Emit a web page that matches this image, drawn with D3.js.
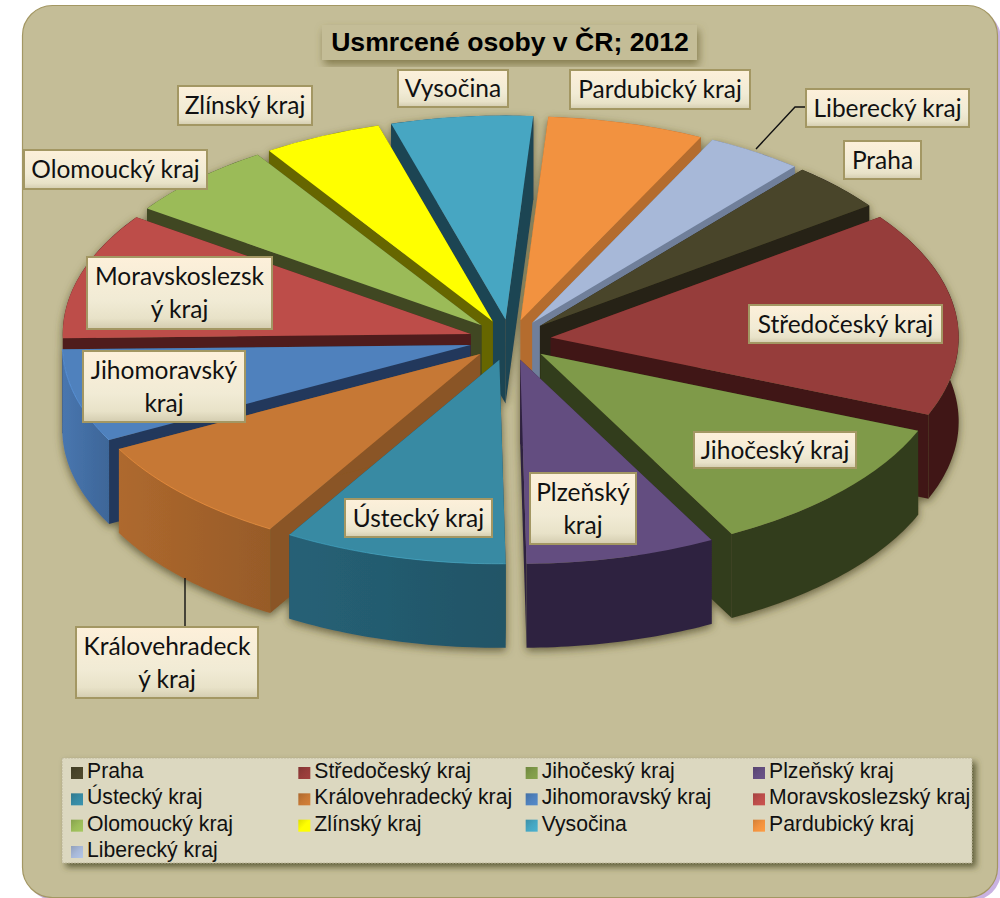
<!DOCTYPE html>
<html>
<head>
<meta charset="utf-8">
<script src="https://cdn.jsdelivr.net/npm/d3@7"></script>
<style>
  html, body { margin: 0; padding: 0; background: #fff; }
  svg { display: block; }
</style>
</head>
<body>
<div id="chart"></div>
<script>
const regions = ['Praha', 'Středočeský kraj', 'Jihočeský kraj', 'Plzeňský kraj', 'Ústecký kraj',
  'Královehradecký kraj', 'Jihomoravský kraj', 'Moravskoslezský kraj', 'Olomoucký kraj',
  'Zlínský kraj', 'Vysočina', 'Pardubický kraj', 'Liberecký kraj'];
const deaths = [26, 110, 75, 51, 60, 59, 50, 68, 41, 32, 38, 42, 26];

const topColors = ['#4a452a', '#963c3a', '#7f9a48', '#644e80', '#378aa3', '#c67835', '#4f81bd',
  '#bd4d4a', '#9bbb59', '#ffff00', '#46a6c2', '#f2923f', '#a7b8d8'];
const wallColors = ['#252214', '#3f1816', '#333c1c', '#2f2340', '#235a6e', '#a2622b', '#436ea3',
  '#4f1e1d', '#3f4723', '#666600', '#1e4452', '#b46c2e', '#6f7f9a'];
const cutColors = ['#252214', '#3f1816', '#333c1c', '#2f2340', '#1e4452', '#8a5525', '#24395b',
  '#4f1e1d', '#3f4723', '#666600', '#1e4452', '#b46c2e', '#6f7f9a'];

// label boxes, same order as regions: [x0, y0, x1, y1]
const labelBoxes = [[843, 140, 922, 180], [748, 304, 943, 344], [693, 431, 857, 469],
  [529, 472, 637, 545], [344, 498, 493, 538], [75, 626, 259, 699], [82, 350, 246, 423],
  [86, 256, 273, 330], [23, 149, 208, 190], [177, 85, 313, 126], [397, 69, 509, 108],
  [569, 69, 751, 110], [805, 88, 970, 128]];
const labelLines = [['Praha'], ['Středočeský kraj'], ['Jihočeský kraj'], ['Plzeňský', 'kraj'],
  ['Ústecký kraj'], ['Královehradeck', 'ý kraj'], ['Jihomoravský', 'kraj'],
  ['Moravskoslezsk', 'ý kraj'], ['Olomoucký kraj'], ['Zlínský kraj'], ['Vysočina'],
  ['Pardubický kraj'], ['Liberecký kraj']];
const leaders = [[[756, 149], [795, 107], [805, 107]], [[185, 578], [185, 626]]];

const width = 1000;
const height = 898;
const rad = Math.PI / 180;

const svg = d3.select('#chart').append('svg')
  .attr('width', width)
  .attr('height', height);
const defs = svg.append('defs');

const shadow = function shadow(id, dx, dy, blur, color, opacity) {
  defs.append('filter')
    .attr('id', id)
    .attr('x', '-10%').attr('y', '-20%')
    .attr('width', '120%').attr('height', '140%')
    .append('feDropShadow')
    .attr('dx', dx).attr('dy', dy)
    .attr('stdDeviation', blur)
    .attr('flood-color', color)
    .attr('flood-opacity', opacity);
};
shadow('pieShadow', 0, 3, 4, '#4a4520', 0.75);
shadow('titleShadow', 2, 5, 4, '#6f6835', 0.75);
shadow('legendShadow', 4, 4, 3, '#4c4826', 0.8);

const labelFill = defs.append('linearGradient')
  .attr('id', 'labelFill')
  .attr('x1', 0).attr('y1', 0).attr('x2', 0).attr('y2', 1);
[[0, '#fdf0da'], [0.6, '#f1ebd5'], [0.85, '#e8e2c8'], [1, '#d3ccaf']].forEach(([o, c]) => {
  labelFill.append('stop').attr('offset', o).attr('stop-color', c);
});

// panel
svg.append('rect')
  .attr('x', 26).attr('y', 9)
  .attr('width', 975).attr('height', 892)
  .attr('rx', 30)
  .attr('fill', '#c9b2e2');
svg.append('rect')
  .attr('x', 22.5).attr('y', 5.5)
  .attr('width', 975).attr('height', 892)
  .attr('rx', 30)
  .attr('fill', '#c4bd97')
  .attr('stroke', '#a39763')
  .attr('stroke-width', 1.2);

// pie
const cx = 510;
const cy = 340;
const radius = 408;
const squash = 0.5;
const depth = 84;
const explode = 41;

const color = d3.scaleOrdinal().domain(regions).range(topColors);
const cut = d3.scaleOrdinal().domain(regions).range(cutColors);

const pie = d3.pie()
  .sort(null)
  .value(d => d.deaths)
  .startAngle(40 * rad)
  .endAngle(400 * rad);
const slices = pie(regions.map((name, i) => ({ name, deaths: deaths[i] })));

const topArc = d3.arc().innerRadius(0).outerRadius(radius);
const line = d3.line();

const offset = function offset(d) {
  const mid = (d.startAngle + d.endAngle) / 2;
  return [cx + explode * Math.sin(mid), cy - explode * Math.cos(mid) * squash];
};
const rim = function rim(d, a, drop) {
  const [ox, oy] = offset(d);
  return [ox + radius * Math.sin(a), oy - radius * Math.cos(a) * squash + drop];
};
const rimPoints = function rimPoints(d, drop) {
  const n = Math.ceil((d.endAngle - d.startAngle) / rad);
  return d3.range(n + 1).map(i => rim(d, d.startAngle + ((d.endAngle - d.startAngle) * i) / n, drop));
};

// back slices first so the nearer ones paint over them
const ordered = slices.slice().sort((a, b) => (
  Math.cos((b.startAngle + b.endAngle) / 2) - Math.cos((a.startAngle + a.endAngle) / 2)
));

slices.forEach((d, i) => {
  const base = d3.color(wallColors[i]);
  // only the walls that differ from their cut faces show a visible sheen
  const sheen = wallColors[i] === cutColors[i] ? 0 : 0.2;
  const g = defs.append('linearGradient')
    .attr('id', `wall${i}`)
    .attr('x1', 0).attr('y1', 0).attr('x2', 1).attr('y2', 0);
  g.append('stop').attr('offset', 0).attr('stop-color', base.brighter(sheen));
  g.append('stop').attr('offset', 1).attr('stop-color', base.darker(sheen));
});

const pieGroup = svg.append('g').attr('filter', 'url(#pieShadow)');
const sliceGroups = pieGroup.selectAll('g.slice')
  .data(ordered)
  .enter()
  .append('g')
  .attr('class', 'slice');

sliceGroups.each(function drawSlice(d) {
  const g = d3.select(this);
  const [ox, oy] = offset(d);
  const name = d.data.name;
  const idx = regions.indexOf(name);

  [d.startAngle, d.endAngle].forEach((a) => {
    g.append('path')
      .attr('d', `${line([[ox, oy], rim(d, a, 0), rim(d, a, depth), [ox, oy + depth]])}Z`)
      .attr('fill', cut(name));
  });
  const outer = rimPoints(d, 0).concat(rimPoints(d, depth).reverse());
  g.append('path')
    .attr('d', `${line(outer)}Z`)
    .attr('fill', `url(#wall${idx})`);
  g.append('path')
    .attr('d', topArc(d))
    .attr('transform', `translate(${ox},${oy}) scale(1,${squash})`)
    .attr('fill', color(name));
  const lit = ['Ústecký kraj', 'Královehradecký kraj', 'Jihomoravský kraj'].includes(name);
  if (lit) {
    g.append('path')
      .attr('d', line(rimPoints(d, 0)))
      .attr('fill', 'none')
      .attr('stroke', d3.color(color(name)).brighter(0.7))
      .attr('stroke-opacity', 0.55)
      .attr('stroke-width', 1);
  }
});

// leader lines
svg.selectAll('path.leader')
  .data(leaders)
  .enter()
  .append('path')
  .attr('class', 'leader')
  .attr('d', line)
  .attr('fill', 'none')
  .attr('stroke', '#111')
  .attr('stroke-width', 1.4);

// title
svg.append('rect')
  .attr('x', 322).attr('y', 25)
  .attr('width', 375).attr('height', 35)
  .attr('fill', '#c4bd97')
  .attr('filter', 'url(#titleShadow)');
svg.append('text')
  .attr('x', 510).attr('y', 51)
  .attr('text-anchor', 'middle')
  .attr('font-family', '"Liberation Sans", Arial, sans-serif')
  .attr('font-weight', 'bold')
  .attr('font-size', 26.6)
  .attr('fill', '#000')
  .text('Usmrcené osoby v ČR; 2012');

// data labels
const labels = svg.selectAll('g.label')
  .data(regions)
  .enter()
  .append('g')
  .attr('class', 'label');
labels.append('rect')
  .attr('x', (d, i) => labelBoxes[i][0] + 1)
  .attr('y', (d, i) => labelBoxes[i][1] + 1)
  .attr('width', (d, i) => labelBoxes[i][2] - labelBoxes[i][0] - 2)
  .attr('height', (d, i) => labelBoxes[i][3] - labelBoxes[i][1] - 2)
  .attr('fill', 'url(#labelFill)')
  .attr('stroke', '#a39763')
  .attr('stroke-width', 2);
labels.each(function drawLabel(d, i) {
  const [x0, y0, x1, y1] = labelBoxes[i];
  const rows = labelLines[i];
  const rowH = 33;
  const top = (y0 + y1) / 2 - (rows.length * rowH) / 2;
  d3.select(this).selectAll('text')
    .data(rows)
    .enter()
    .append('text')
    .attr('x', (x0 + x1) / 2)
    .attr('y', (r, k) => top + rowH * k + 25)
    .attr('text-anchor', 'middle')
    .attr('font-family', 'Lato, "Open Sans", sans-serif')
    .attr('font-size', 24.5)
    .attr('fill', '#111')
    .text(r => r);
});

// legend
svg.append('rect')
  .attr('x', 62).attr('y', 758)
  .attr('width', 910).attr('height', 105)
  .attr('fill', '#dcd8c0')
  .attr('stroke', '#b5b08f')
  .attr('stroke-width', 0.7)
  .attr('stroke-dasharray', '2,1')
  .attr('filter', 'url(#legendShadow)');

const legendX = d3.scalePoint().domain([0, 1, 2, 3]).range([71, 753]);
const legendY = d3.scalePoint().domain([0, 1, 2, 3]).range([778, 857]);

const markerFill = function markerFill(i) {
  const c = d3.color(topColors[i]);
  const g = defs.append('linearGradient')
    .attr('id', `marker${i}`)
    .attr('x1', 0).attr('y1', 0).attr('x2', 1).attr('y2', 1);
  g.append('stop').attr('offset', 0).attr('stop-color', c.darker(0.4));
  g.append('stop').attr('offset', 0.5).attr('stop-color', c);
  g.append('stop').attr('offset', 1).attr('stop-color', c.brighter(0.2));
  return `url(#marker${i})`;
};

const items = svg.selectAll('g.item')
  .data(regions)
  .enter()
  .append('g')
  .attr('class', 'item')
  .attr('transform', (d, i) => `translate(${legendX(i % 4)},${legendY(Math.floor(i / 4))})`);
items.append('rect')
  .attr('y', -11)
  .attr('width', 12).attr('height', 12)
  .attr('fill', (d, i) => markerFill(i));
items.append('text')
  .attr('x', 16)
  .attr('font-family', '"Liberation Sans", Arial, sans-serif')
  .attr('font-size', 21.2)
  .attr('fill', '#111')
  .text(d => d);
</script>
</body>
</html>
